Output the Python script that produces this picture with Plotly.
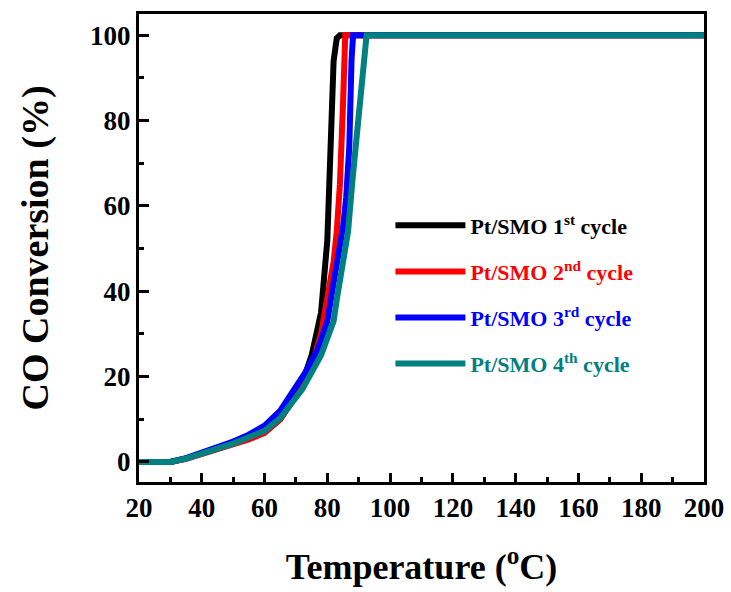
import plotly.graph_objects as go

# ---- data ----
t1 = [20, 25, 30, 35, 40, 45, 50, 55, 60, 65, 70, 72, 75, 78, 80, 81, 82, 83, 84, 100, 120, 140, 160, 180, 200]
c1 = [0, 0, 0, 0.8, 2, 3, 4.3, 5.5, 7, 10, 15.5, 18.5, 25, 35, 52, 72, 94, 99.3, 100, 100, 100, 100, 100, 100, 100]

t2 = [20, 25, 30, 35, 40, 45, 50, 55, 60, 65, 68, 72, 76, 78, 80, 82, 83, 84, 85, 85.7, 100, 120, 140, 160, 180, 200]
c2 = [0, 0, 0, 0.7, 1.8, 2.8, 4, 5.3, 6.8, 10, 13.5, 19, 25, 30, 38, 47, 54, 65, 84, 100, 100, 100, 100, 100, 100, 100]

t3 = [20, 25, 30, 35, 40, 45, 50, 55, 60, 65, 70, 73, 77, 80, 82, 84, 85, 86, 87, 87.7, 88.2, 100, 120, 140, 160, 180, 200]
c3 = [0, 0, 0, 0.9, 2.2, 3.4, 4.8, 6.4, 8.5, 12, 17.5, 21, 26.5, 33, 42, 50, 55, 62, 74, 94, 100, 100, 100, 100, 100, 100, 100]

t4 = [20, 25, 30, 35, 40, 45, 50, 55, 60, 65, 70, 72, 75, 78, 80, 82, 83, 85, 86.6, 88, 89, 90, 91, 92, 92.5, 100, 120, 140, 160, 180, 200]
c4 = [0, 0, 0, 0.8, 1.9, 3, 4.3, 5.8, 7.3, 10.3, 15, 17, 21, 25, 29, 33, 38, 46, 54, 66, 74, 81, 89, 97, 100, 100, 100, 100, 100, 100, 100]

series_names = ["Pt/SMO 1<sup>st</sup> cycle", "Pt/SMO 2<sup>nd</sup> cycle",
                "Pt/SMO 3<sup>rd</sup> cycle", "Pt/SMO 4<sup>th</sup> cycle"]
colors = ["#000000", "#ff0000", "#0000ff", "#008080"]

xs = [t1, t2, t3, t4]
ys = [c1, c2, c3, c4]

FONT = "Liberation Serif"

fig = go.Figure()
for i, (x, y) in enumerate(zip(xs, ys)):
    fig.add_trace(go.Scatter(
        x=x, y=y, mode="lines",
        line=dict(color=colors[i], width=6),
        name=f'<span style="color:{colors[i]}">{series_names[i]}</span>',
        legendgroup=f"g{i}",
    ))

fig.update_layout(
    width=731, height=592,
    margin=dict(l=139, r=27, t=14, b=110),
    paper_bgcolor="white", plot_bgcolor="white",
    font=dict(family=FONT, color="black", weight="bold"),
    showlegend=True,
    legend=dict(
        x=0.445, y=0.593, xanchor="left", yanchor="top",
        font=dict(family=FONT, size=22, weight="bold"),
        bgcolor="rgba(0,0,0,0)",
        tracegroupgap=14.5,
        itemwidth=70,
    ),
    xaxis=dict(
        range=[20, 200], tick0=20, dtick=20, automargin=False,
        ticks="inside", ticklen=9, tickwidth=3, tickcolor="black",
        minor=dict(dtick=10, ticks="inside", ticklen=5, tickwidth=3, tickcolor="black"),
        showline=True, linewidth=3, linecolor="black", mirror=True,
        showgrid=False, zeroline=False,
        tickfont=dict(family=FONT, size=27, weight="bold"),
        title=dict(text="Temperature (<sup>o</sup>C)", font=dict(family=FONT, size=36, weight="bold"), standoff=32),
    ),
    yaxis=dict(
        range=[-4.7, 105], tick0=0, dtick=20, automargin=False,
        ticks="inside", ticklen=10, tickwidth=3, tickcolor="black",
        minor=dict(dtick=10, ticks="inside", ticklen=5, tickwidth=3, tickcolor="black"),
        showline=True, linewidth=3, linecolor="black", mirror=True,
        showgrid=False, zeroline=False,
        tickfont=dict(family=FONT, size=27, weight="bold"),
        title=dict(text="CO Conversion (%)", font=dict(family=FONT, size=38, weight="bold"), standoff=30),
    ),
)

fig.write_html("out.html")
